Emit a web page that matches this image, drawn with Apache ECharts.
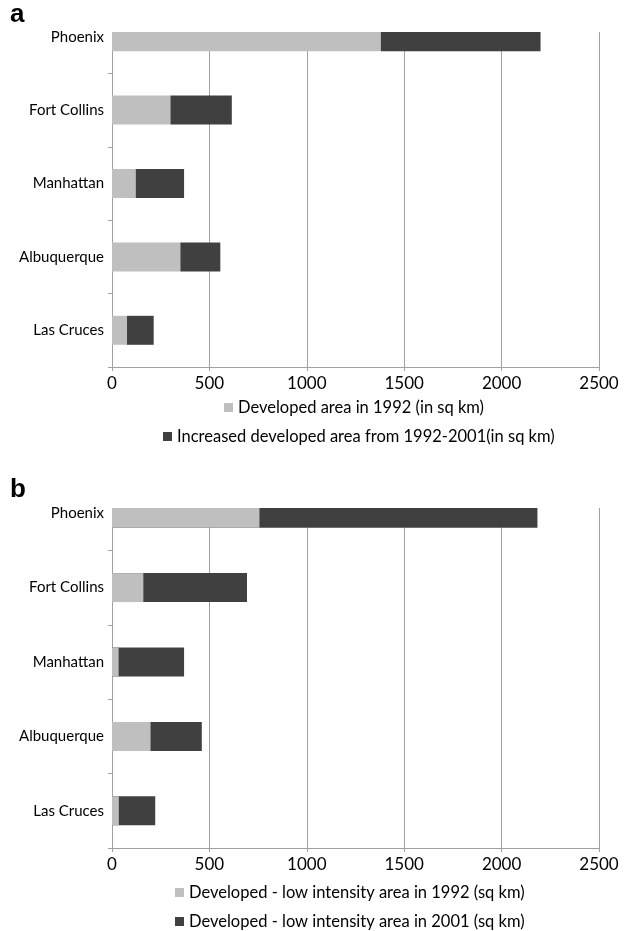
<!DOCTYPE html>
<html>
<head>
<meta charset="utf-8">
<script src="https://cdn.jsdelivr.net/npm/echarts@6/dist/echarts.min.js"></script>
<style>
html,body{margin:0;padding:0;background:#fff;}
#chart{width:625px;height:931px;}
</style>
</head>
<body>
<div id="chart"></div>
<script>
const cities = ['Phoenix', 'Fort Collins', 'Manhattan', 'Albuquerque', 'Las Cruces'];
const xTicks = [0, 500, 1000, 1500, 2000, 2500];
// Panel a
const developed1992 = [1380, 300, 122, 351, 77];
const increase1992to2001 = [820, 315, 248, 205, 137];
// Panel b
const lowIntensity1992 = [757, 161, 34, 198, 35];
const lowIntensity2001 = [2184, 693, 370, 461, 222];

const nameA1 = 'Developed area in 1992 (in sq km)';
const nameA2 = 'Increased developed area from 1992-2001(in sq km)';
const nameB1 = 'Developed - low intensity area in 1992 (sq km)';
const nameB2 = 'Developed - low intensity area in 2001 (sq km)';

const LIGHT = '#bfbfbf', DARK = '#404040', GRID = '#a0a0a0';
const FONT = 'Lato';

function xAxisFor(gi) {
  return {
    type: 'value', gridIndex: gi, min: xTicks[0], max: xTicks[xTicks.length - 1], interval: 500,
    axisLine: {show: true, lineStyle: {color: GRID}},
    axisTick: {show: true, length: 4, lineStyle: {color: GRID}},
    splitLine: {show: true, lineStyle: {color: GRID, width: 1}},
    axisLabel: {fontFamily: FONT, fontSize: 17, color: '#000', margin: 8,
                formatter: function (v) { return String(v); }}
  };
}
function yAxisFor(gi) {
  return {
    type: 'category', gridIndex: gi, data: cities, inverse: true,
    axisLine: {show: true, lineStyle: {color: GRID}},
    axisTick: {show: true, length: 4, lineStyle: {color: GRID}},
    axisLabel: {fontFamily: FONT, fontSize: 15, color: '#000', margin: 8}
  };
}
function legendAt(name, left, top) {
  return {
    data: [name], left: left, top: top, icon: 'rect', itemWidth: 9, itemHeight: 9, itemGap: 4,
    selectedMode: false, padding: 0,
    textStyle: {fontFamily: FONT, fontSize: 16.5, color: '#000', padding: [0, 0, 0, 0]}
  };
}

const chart = echarts.init(document.getElementById('chart'), null, {renderer: 'canvas'});
chart.setOption({
  animation: false,
  backgroundColor: '#fff',
  grid: [
    {left: 112, right: 26, top: 0, height: 367},
    {left: 112, right: 26, top: 476, height: 372}
  ],
  xAxis: [xAxisFor(0), xAxisFor(1)],
  yAxis: [yAxisFor(0), yAxisFor(1)],
  legend: [
    legendAt(nameA1, 224, 399),
    legendAt(nameA2, 163, 428),
    legendAt(nameB1, 175, 884),
    legendAt(nameB2, 175, 913)
  ],
  series: [
    {name: nameA1, type: 'bar', stack: 'a', xAxisIndex: 0, yAxisIndex: 0, data: developed1992,
     barWidth: 29, itemStyle: {color: LIGHT}},
    {name: nameA2, type: 'bar', stack: 'a', xAxisIndex: 0, yAxisIndex: 0, data: increase1992to2001,
     barWidth: 29, itemStyle: {color: DARK}},
    {name: nameB1, type: 'bar', xAxisIndex: 1, yAxisIndex: 1, data: lowIntensity1992,
     barWidth: 29, barGap: '-100%', z: 3, itemStyle: {color: LIGHT}},
    {name: nameB2, type: 'bar', xAxisIndex: 1, yAxisIndex: 1, data: lowIntensity2001,
     barWidth: 29, barGap: '-100%', z: 2, itemStyle: {color: DARK}}
  ],
  graphic: [
    {type: 'rect', left: 100, top: 0, z: 100, shape: {width: 525, height: 32}, style: {fill: '#fff'}},
    {type: 'rect', left: 100, top: 470, z: 100, shape: {width: 525, height: 38}, style: {fill: '#fff'}},
    {type: 'text', left: 10, top: 2, z: 101, style: {text: 'a', font: 'bold 26px "Liberation Sans", Arial, sans-serif', fill: '#000'}},
    {type: 'text', left: 10, top: 477, z: 101, style: {text: 'b', font: 'bold 26px "Liberation Sans", Arial, sans-serif', fill: '#000'}}
  ]
});
</script>
</body>
</html>
